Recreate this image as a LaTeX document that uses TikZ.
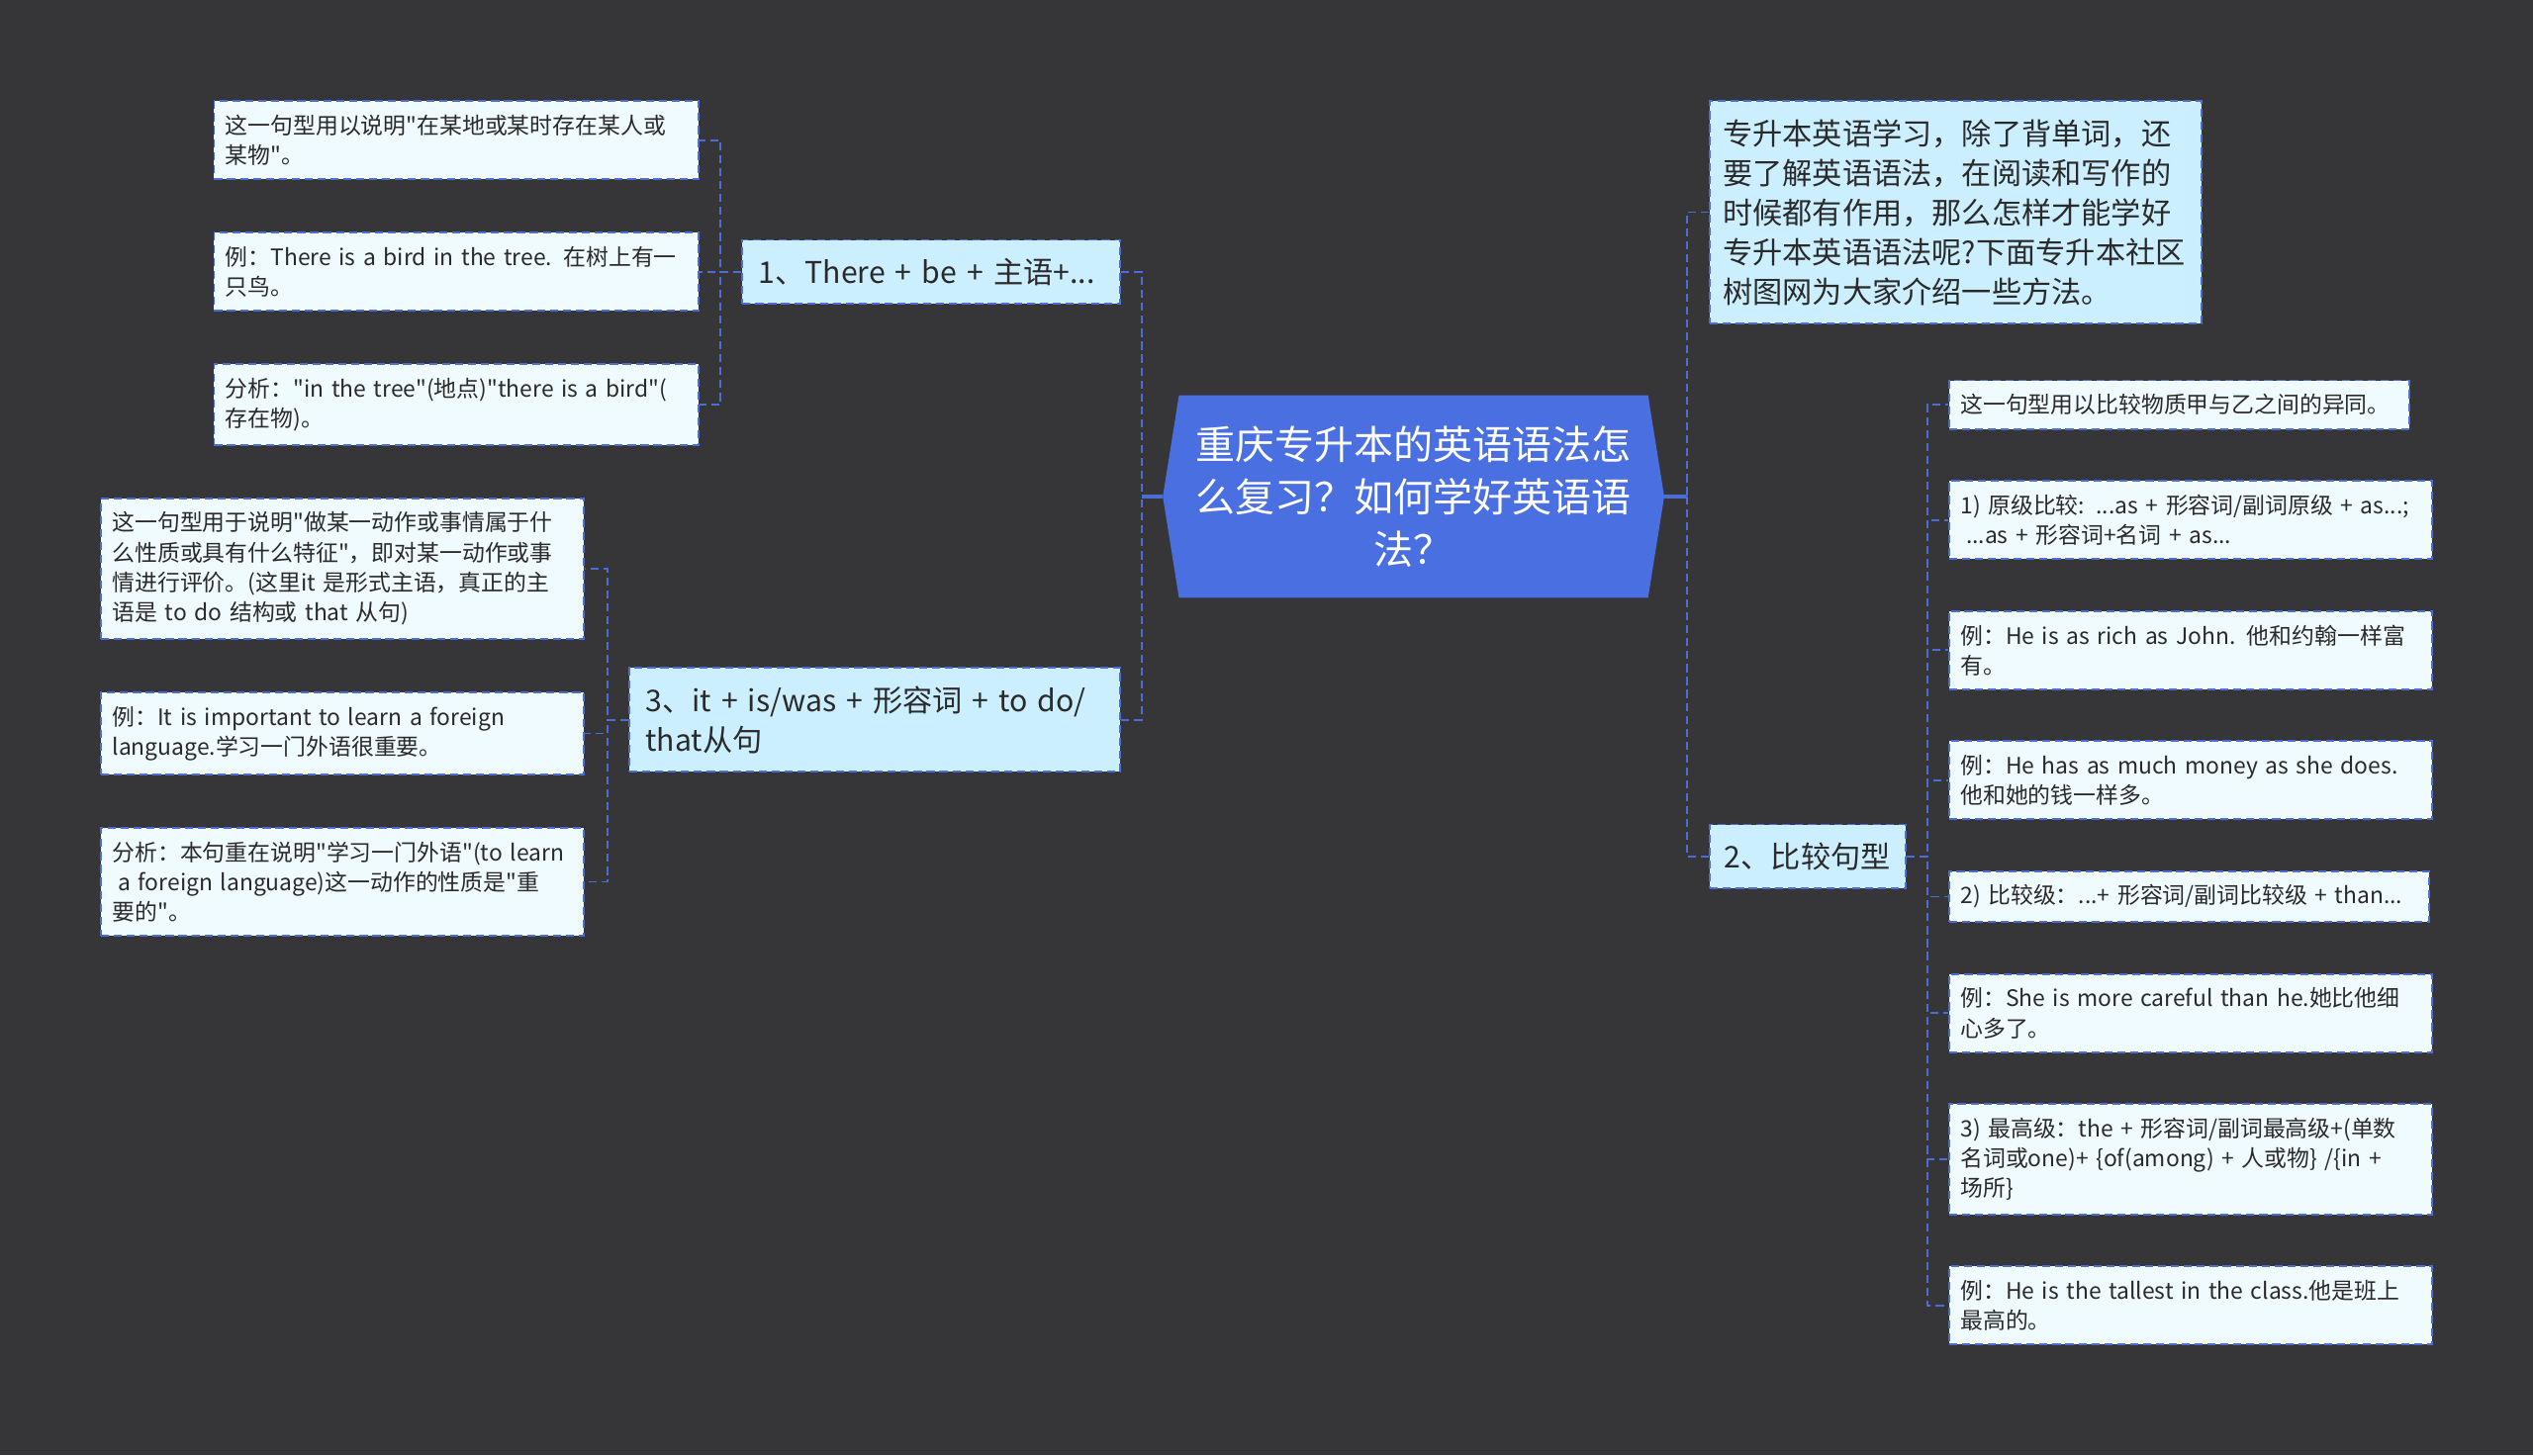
\documentclass[tikz,border=0pt]{standalone}
\usepackage{fontspec}
\setmainfont{Noto Sans CJK SC}[Ligatures=TeXOff]
\usepackage{tikz}
\usetikzlibrary{positioning,calc,backgrounds}
\definecolor{mmBg}{HTML}{363538}
\definecolor{mmBlue}{HTML}{4A6FE0}
\definecolor{mmLine}{HTML}{4C6CD8}
\definecolor{mmMidL}{HTML}{CCEFFF}
\definecolor{mmLeafL}{HTML}{F0FBFF}
\definecolor{mmText}{HTML}{2A2A2A}

\begin{document}
\begin{tikzpicture}[
  x=1pt, y=-1pt,
  base/.style  = {align=left, text=mmText, line width=1.1pt,
                  draw=mmLine, dash pattern=on 5pt off 3pt, anchor=north west},
  root/.style  = {align=center, text=white, text width=280pt,
                  minimum height=125pt, inner sep=5pt,
                  font=\fontsize{24.5}{32.5}\selectfont},
  topic/.style = {base, fill=mmMidL, inner xsep=10pt, inner ysep=11.25pt,
                  font=\fontsize{18.5}{24.5}\selectfont},
  leaf/.style  = {base, fill=mmLeafL, inner xsep=7pt, inner ysep=8.5pt,
                  font=\fontsize{14}{18.5}\selectfont},
  conn/.style  = {draw=mmLine, line width=1.1pt, dash pattern=on 5pt off 3pt},
  rconn/.style = {draw=mmLine, line width=2pt},
]

%── Root ─────────────────────────────────────────────────────────────────────
\node[root] (root) at (875,307.5)
  {重庆专升本的英语语法怎\\么复习？如何学好英语语\\法？};
\coordinate (rootL) at ([xshift=-10pt]root.west);
\coordinate (rootR) at ([xshift=10pt]root.east);

%── Left: topic 1 and its leaves ─────────────────────────────────────────────
\node[topic, text width=214pt] (tA) at (459,148) {1、There + be + 主语+...};
\node[leaf, text width=286pt] (lA1) at (132,62)
  {这一句型用以说明"在某地或某时存在某人或\\某物"。};
\node[leaf, text width=286pt, below=32pt of lA1.south west, anchor=north west] (lA2)
  {例：There is a bird in the tree. 在树上有一\\只鸟。};
\node[leaf, text width=286pt, below=32pt of lA2.south west, anchor=north west] (lA3)
  {分析："in the tree"(地点)"there is a bird"(\\存在物)。};

%── Left: topic 3 and its leaves ─────────────────────────────────────────────
\node[topic, text width=284pt] (tC) at (389,413)
  {3、it + is/was + 形容词 + to do/\\that从句};
\node[leaf, text width=285pt] (lC1) at (62,308)
  {这一句型用于说明"做某一动作或事情属于什\\么性质或具有什么特征"，即对某一动作或事\\情进行评价。(这里it 是形式主语，真正的主\\语是 to do 结构或 that 从句)};
\node[leaf, text width=285pt, below=32pt of lC1.south west, anchor=north west] (lC2)
  {例：It is important to learn a foreign\\language.学习一门外语很重要。};
\node[leaf, text width=285pt, below=32pt of lC2.south west, anchor=north west] (lC3)
  {分析：本句重在说明"学习一门外语"(to learn\\\hspace*{0.25em}a foreign language)这一动作的性质是"重\\要的"。};

%── Right: intro and topic 2 ─────────────────────────────────────────────────
\node[topic, inner xsep=8pt, text width=288pt] (intro) at (1058,62)
  {专升本英语学习，除了背单词，还\\要了解英语语法，在阅读和写作的\\时候都有作用，那么怎样才能学好\\专升本英语语法呢?下面专升本社区\\树图网为大家介绍一些方法。};
\node[topic, inner xsep=9pt, text width=103pt] (tB) at (1058,510) {2、比较句型};

%── Right: leaves of topic 2 ─────────────────────────────────────────────────
\node[leaf, text width=271pt] (rB1) at (1206,235)
  {这一句型用以比较物质甲与乙之间的异同。};
\node[leaf, text width=285pt, below=31pt of rB1.south west, anchor=north west] (rB2)
  {1) 原级比较: ...as + 形容词/副词原级 + as...;\\\hspace*{0.25em}...as + 形容词+名词 + as...};
\node[leaf, text width=285pt, below=31pt of rB2.south west, anchor=north west] (rB3)
  {例：He is as rich as John. 他和约翰一样富\\有。};
\node[leaf, text width=285pt, below=31pt of rB3.south west, anchor=north west] (rB4)
  {例：He has as much money as she does.\\他和她的钱一样多。};
\node[leaf, text width=283pt, below=31pt of rB4.south west, anchor=north west] (rB5)
  {2) 比较级：...+ 形容词/副词比较级 + than...};
\node[leaf, text width=285pt, below=31pt of rB5.south west, anchor=north west] (rB6)
  {例：She is more careful than he.她比他细\\心多了。};
\node[leaf, text width=285pt, below=31pt of rB6.south west, anchor=north west] (rB7)
  {3) 最高级：the + 形容词/副词最高级+(单数\\名词或one)+ \{of(among) + 人或物\} /\{in +\\场所\}};
\node[leaf, text width=285pt, below=31pt of rB7.south west, anchor=north west] (rB8)
  {例：He is the tallest in the class.他是班上\\最高的。};

%── Connectors ───────────────────────────────────────────────────────────────
\coordinate (tkL) at ([xshift=-13pt]rootL);
\coordinate (tkR) at ([xshift=14pt]rootR);
\draw[rconn](tkL) -- (rootL);
\draw[rconn](tkR) -- (rootR);
\draw[conn](tA.east) -| (tkL);
\draw[conn](tC.east) -| (tkL);
\draw[conn](intro.west) -| (tkR);
\draw[conn](tB.west) -| (tkR);

\foreach \lf in {lA1,lA2,lA3}
  \draw[conn](tA.west) -| ([xshift=13pt]\lf.east) -- (\lf.east);
\foreach \lf in {lC1,lC2,lC3}
  \draw[conn](tC.west) -| ([xshift=14pt]\lf.east) -- (\lf.east);
\foreach \lf in {rB1,rB2,rB3,rB4,rB5,rB6,rB7,rB8}
  \draw[conn](tB.east) -| ([xshift=-13pt]\lf.west) -- (\lf.west);

%── Background and root panel ────────────────────────────────────────────────
\begin{scope}[on background layer]
  \fill[mmBg] (0,0) rectangle (1568,901);
  \fill[mmBlue] (root.north west) -- (root.north east) -- (rootR)
    -- (root.south east) -- (root.south west) -- (rootL) -- cycle;
\end{scope}

\end{tikzpicture}
\end{document}
